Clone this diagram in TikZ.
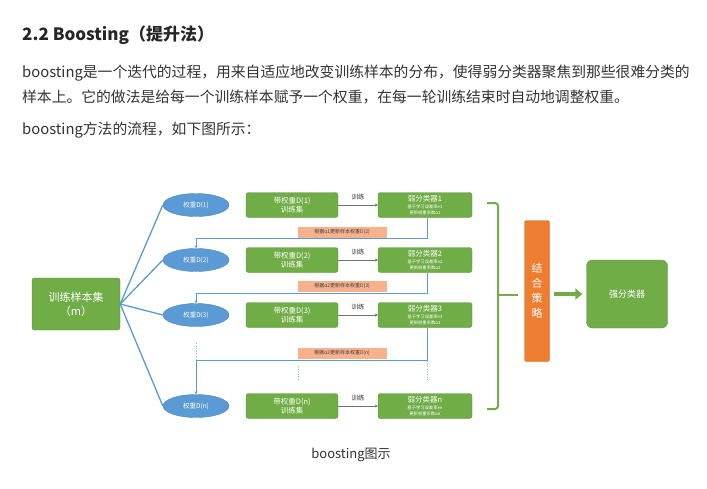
\documentclass[tikz,border=0pt]{standalone}
\usepackage{fontspec}
\setmainfont{Noto Sans CJK SC}
\usetikzlibrary{shapes.geometric,arrows.meta}
\definecolor{boxgreen}{RGB}{112,173,71}
\definecolor{ellblue}{RGB}{91,155,213}
\definecolor{stratorange}{RGB}{237,125,49}
\definecolor{notesalmon}{RGB}{247,177,140}
\definecolor{bodygray}{RGB}{51,51,51}
\def\tinytxt{\fontsize{4.3}{5.4}\selectfont}
\def\smalltxt{\fontsize{7.5}{9}\selectfont}
\tikzset{
  greenbox/.style={draw=boxgreen!85!black, fill=boxgreen, rounded corners=2.5pt,
    text=white, align=center, inner sep=0pt},
  wellipse/.style={ellipse, draw=ellblue!85!black, fill=ellblue, text=white,
    minimum width=66pt, minimum height=23pt, inner sep=0pt,
    font=\fontsize{6.5}{7}\selectfont},
  notebox/.style={fill=notesalmon, text=black!75, minimum width=89pt,
    minimum height=11pt, inner sep=0pt, font=\fontsize{5}{6}\selectfont},
  bluelink/.style={draw=ellblue, line width=1.3pt},
  feedback/.style={draw=ellblue, line width=0.6pt, -{Stealth[length=3pt,width=3pt]}},
  dotlink/.style={draw=ellblue!70, dotted, line width=0.6pt},
  bodytext/.style={anchor=west, text=bodygray, inner sep=0pt},
}

\begin{document}
\begin{tikzpicture}[x=1pt,y=-1pt]
\useasboundingbox [fill=white] (0,0) rectangle (707,488);
% text above and below the figure
\node [bodytext, text=black!85, font=\fontsize{17}{20}\selectfont\bfseries] (title) at (22,35) {2.2 Boosting（提升法）};
\node [bodytext, font=\fontsize{14.8}{18}\selectfont] (line1) at (22,73) {boosting是一个迭代的过程，用来自适应地改变训练样本的分布，使得弱分类器聚焦到那些很难分类的};
\node [bodytext, font=\fontsize{14.8}{18}\selectfont] (line2) at (22,97) {样本上。它的做法是给每一个训练样本赋予一个权重，在每一轮训练结束时自动地调整权重。};
\node [bodytext, font=\fontsize{14.8}{18}\selectfont] (line3) at (22,130) {boosting方法的流程，如下图所示：};
\node [text=bodygray, inner sep=0pt, font=\fontsize{13}{15}\selectfont] (caption) at (351,455) {boosting图示};

% training set
\node [greenbox, minimum width=88pt, minimum height=52pt, font=\fontsize{11}{14}\selectfont] (train) at (76,304) {训练样本集\\（m）};

% one row per round
\foreach \i/\y in {1/205,2/260,3/315,n/406}
{
	\node [wellipse] (ell\i) at (196,\y) {权重D(\i)};
	\node [greenbox, minimum width=92pt, minimum height=25pt, font=\smalltxt] (set\i) at (292,\y) {带权重D(\i)\\训练集};
	\node [greenbox, minimum width=94pt, minimum height=25pt, font=\tinytxt] (weak\i) at (425,\y) {{\smalltxt 弱分类器\i}\\[2pt]基于学习误差率e\i\\更新权重系数α\i};
	\draw [bluelink] (train.east) -- (ell\i.west);
	\draw [draw=black!55, line width=0.6pt, -{Stealth[length=3pt,width=3pt]}] (set\i) -- node [above=1pt, text=bodygray, font=\fontsize{6.5}{7}\selectfont] {训练} (weak\i);
}

% feedback from each weak classifier
\coordinate (fb1) at (427,238);
\coordinate (fb2) at (427,293);
\coordinate (fb3) at (427,360);
\draw [feedback] (weak1.south -| fb1) -- (fb1) -- (fb1 -| ell2.north) -- (ell2.north);
\draw [feedback] (weak2.south -| fb2) -- (fb2) -- (fb2 -| ell3.north) -- (ell3.north);
\draw [feedback] (weak3.south -| fb3) -- (fb3) -- (fb3 -| elln.north) -- (elln.north);
\node [notebox] (note1) at (342,232) {根据α1更新样本权重D(2)};
\node [notebox] (note2) at (342,286) {根据α2更新样本权重D(3)};
\node [notebox] (note3) at (342,353) {根据α3更新样本权重D(n)};
\draw [dotlink] (196,343) -- (196,359);
\draw [dotlink] (298,366) -- (298,380);
\draw [dotlink] (427,361) -- (427,380);

% combine
\draw [draw=boxgreen, line width=2pt, rounded corners=3pt] (487,203) -- (498,203) -- (498,409) -- (487,409);
\draw [draw=boxgreen, line width=2pt] (498,295) -- (518,295);
\node [fill=stratorange, draw=stratorange!85!black, rounded corners=2pt, minimum width=25pt, minimum height=141pt, inner sep=0pt, text=white, align=center, font=\fontsize{11}{15}\selectfont] (strat) at (537,291) {结\\合\\策\\略};
\node [greenbox, rounded corners=6pt, minimum width=81pt, minimum height=68pt, font=\fontsize{9}{11}\selectfont] (strong) at (627,294) {强分类器};
\draw [draw=boxgreen, line width=4.5pt, -{Triangle[length=7pt,width=11pt]}] ([xshift=4pt]strat.east |- strong) -- ([xshift=-4pt]strong.west);
\end{tikzpicture}
\end{document}
